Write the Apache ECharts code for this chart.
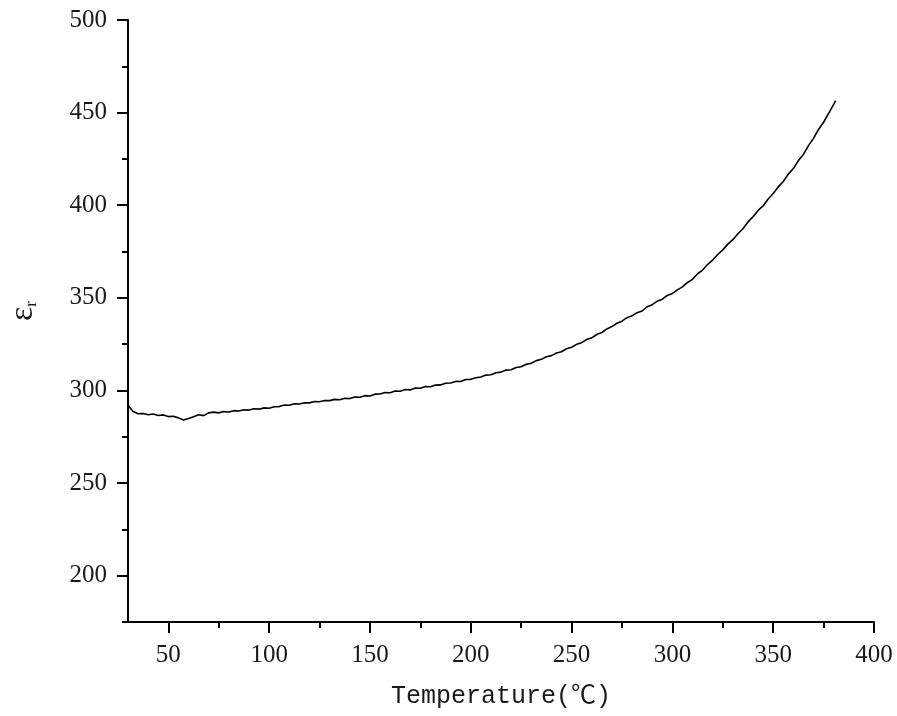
<!DOCTYPE html>
<html>
<head>
<meta charset="utf-8">
<script src="https://cdn.jsdelivr.net/npm/echarts@6/dist/echarts.min.js"></script>
<style>html,body{margin:0;padding:0;background:#fff;}#chart{width:897px;height:716px;}</style>
</head>
<body>
<div id="chart"></div>
<script>
var temperature = [30,32.5,35,37.5,40,42.5,45,47.5,50,52.5,55,57.5,60,62.5,65,67.5,70,72.5,75,77.5,
80,82.5,85,87.5,90,92.5,95,97.5,100,102.5,105,107.5,110,112.5,115,117.5,120,122.5,125,127.5,
130,132.5,135,137.5,140,142.5,145,147.5,150,152.5,155,157.5,160,162.5,165,167.5,170,172.5,175,177.5,
180,182.5,185,187.5,190,192.5,195,197.5,200,202.5,205,207.5,210,212.5,215,217.5,220,222.5,225,227.5,
230,232.5,235,237.5,240,242.5,245,247.5,250,252.5,255,257.5,260,262.5,265,267.5,270,272.5,275,277.5,
280,282.5,285,287.5,290,292.5,295,297.5,300,302.5,305,307.5,310,312.5,315,317.5,320,322.5,325,327.5,
330,332.5,335,337.5,340,342.5,345,347.5,350,352.5,355,357.5,360,362.5,365,367.5,370,372.5,375,377.5,
380,381];
var permittivity = [292.0,288.6,287.4,287.6,286.9,287.3,286.5,286.8,285.9,286.1,285.2,284.0,284.9,285.8,286.9,286.4,287.9,288.3,287.9,288.6,
288.4,289.1,288.9,289.6,289.4,290.1,289.9,290.6,290.4,291.2,291.3,292.1,292.0,292.8,292.7,293.4,293.3,294.0,293.9,294.6,
294.5,295.2,295.0,295.8,295.6,296.5,296.3,297.2,297.0,298.0,298.1,298.9,298.8,299.7,299.6,300.5,300.3,301.3,301.2,302.1,
302.0,302.9,303.0,303.9,304.0,304.9,304.8,305.9,306.0,306.9,307.3,308.3,308.5,309.6,309.9,311.0,311.2,312.4,312.8,314.1,
314.7,316.1,316.8,318.2,318.8,320.2,320.9,322.5,323.3,324.9,325.8,327.5,328.4,330.2,331.3,333.2,334.5,336.3,337.4,339.3,
340.3,342.0,342.9,345.2,346.3,348.2,349.3,351.3,352.4,354.3,355.9,358.3,360.0,363.0,365.0,368.1,370.4,373.4,375.9,379.0,
381.4,384.6,387.3,391.0,393.8,397.2,399.6,403.4,406.3,409.9,412.8,416.8,419.8,424.1,427.4,432.2,436.1,440.9,444.8,449.6,
454.5,456.5];

var xMajorTicks = [50,100,150,200,250,300,350,400];
var xMinorTicks = [75,125,175,225,275,325,375];
var yMajorTicks = [200,250,300,350,400,450,500];
var yMinorTicks = [175,225,275,325,375,425,475];
var xRange = [30,400];
var yRange = [175,500];

var data = temperature.map(function (t, i) { return [t, permittivity[i]]; });

var labelFont = { fontFamily: 'Liberation Serif', fontSize: 25, color: '#1a1a1a' };
var lineStyle = { color: '#000', width: 2 };

var chart = echarts.init(document.getElementById('chart'));
chart.setOption({
  animation: false,
  backgroundColor: '#fff',
  grid: { left: 128, right: 23, top: 20, bottom: 94, containLabel: false, outerBoundsMode: 'none' },
  xAxis: [{
    type: 'value', position: 'bottom', min: xRange[0], max: xRange[1], interval: 25,
    name: 'Temperature(℃)', nameLocation: 'middle', nameGap: 62, nameMoveOverlap: false,
    nameTextStyle: { fontFamily: 'Liberation Mono, Noto Sans CJK SC', fontSize: 25, color: '#1a1a1a' },
    axisLine: { show: true, onZero: false, lineStyle: lineStyle },
    axisTick: { show: true, inside: false, length: 11, lineStyle: lineStyle, customValues: xMajorTicks },
    axisLabel: Object.assign({ margin: 21, customValues: xMajorTicks }, labelFont),
    splitLine: { show: false }
  }, {
    type: 'value', position: 'bottom', min: xRange[0], max: xRange[1], interval: 25,
    axisLine: { show: false, onZero: false },
    axisTick: { show: true, inside: false, length: 6, lineStyle: lineStyle, customValues: xMinorTicks },
    axisLabel: { show: false },
    splitLine: { show: false }
  }],
  yAxis: [{
    type: 'value', position: 'left', min: yRange[0], max: yRange[1], interval: 25,
    name: '{e|ε}{s|r}', nameLocation: 'middle', nameGap: 88, nameRotate: 90, nameMoveOverlap: false,
    nameTextStyle: {
      color: '#1a1a1a',
      rich: {
        e: { fontFamily: 'Liberation Serif', fontSize: 34, color: '#1a1a1a', padding: [0, 0, 0, 20] },
        s: { fontFamily: 'Liberation Serif', fontSize: 17, color: '#1a1a1a', verticalAlign: 'bottom', padding: [10, 0, 0, 0] }
      }
    },
    axisLine: { show: true, onZero: false, lineStyle: lineStyle },
    axisTick: { show: true, inside: false, length: 11, lineStyle: lineStyle, customValues: yMajorTicks },
    axisLabel: Object.assign({ margin: 21, customValues: yMajorTicks }, labelFont),
    splitLine: { show: false }
  }, {
    type: 'value', position: 'left', min: yRange[0], max: yRange[1], interval: 25,
    axisLine: { show: false, onZero: false },
    axisTick: { show: true, inside: false, length: 6, lineStyle: lineStyle, customValues: yMinorTicks },
    axisLabel: { show: false },
    splitLine: { show: false }
  }],
  series: [{
    type: 'line', xAxisIndex: 0, yAxisIndex: 0, data: data,
    showSymbol: false, symbol: 'none',
    lineStyle: { color: '#000', width: 1.6 }
  }]
});
</script>
</body>
</html>
